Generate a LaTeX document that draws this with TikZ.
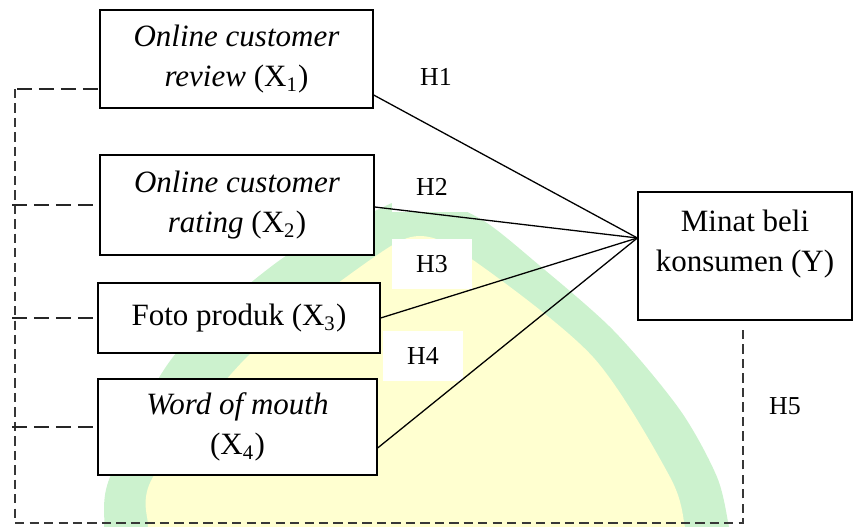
\documentclass[tikz,border=0pt]{standalone}
\usepackage{fontspec}
\setmainfont{Liberation Serif}
\usetikzlibrary{calc, positioning}

\definecolor{sealgreen}{RGB}{204,242,206}
\definecolor{sealyellow}{RGB}{255,255,208}
\definecolor{dashgray}{RGB}{55,55,55}

% one unit of the drawing grid
\def\pxu{0.387pt}

\tikzset{
    varbox/.style={draw, line width=0.5pt, fill=white, align=center, inner sep=0pt,
        font=\fontsize{12}{15.5}\selectfont},
    hlabel/.style={fill=white, inner sep=0pt, minimum width=80*\pxu, minimum height=50*\pxu,
        font=\fontsize{10}{12}\selectfont},
    hline/.style={line width=0.5pt},
    stubline/.style={line width=0.75pt, black!85, dash pattern=on 5.8pt off 2.7pt},
    bracketline/.style={line width=0.45pt, dashgray, dash pattern=on 3.6pt off 2pt}
}

\begin{document}
\begin{tikzpicture}[x=0.387pt, y=-0.387pt]
    \useasboundingbox (0,0) rectangle (854,527);
    % seal in the background
    \begin{scope}
    \clip (0,0) rectangle (854,527);
    \fill[sealgreen] plot[smooth] coordinates {(98,545) (104,527) (110,477) (173,357) (280,260) (377,210) (410,198) (450,205) (487,223) (533,260) (613,330) (680,410) (717,477) (729,527) (732,545)} -- cycle;
    \fill[sealyellow] plot[smooth] coordinates {(146,545) (148,527) (153,477) (247,357) (370,260) (420,236) (473,260) (593,357) (670,477) (685,527) (687,545)} -- cycle;
    \end{scope}
    % hypothesis labels
    \node[hlabel] (h1) at (436,77) {H1};
    \node[hlabel] (h2) at (432,187) {H2};
    \node[hlabel] (h3) at (432,264) {H3};
    \node[hlabel] (h4) at (423,356) {H4};
    \node[hlabel] (h5) at (785,406) {H5};
    % variables
    \node[varbox, minimum width=273*\pxu, minimum height=98*\pxu] (x1) at (236.5,59) {\textit{Online customer}\\\textit{review} (X\textsubscript{1})};
    \node[varbox, minimum width=274*\pxu, minimum height=100*\pxu] (x2) at (237,205) {\textit{Online customer}\\\textit{rating} (X\textsubscript{2})};
    \node[varbox, minimum width=282*\pxu, minimum height=70*\pxu] (x3) at (239,318) {Foto produk (X\textsubscript{3})};
    \node[varbox, minimum width=279*\pxu, minimum height=96*\pxu] (x4) at (237.5,427) {\textit{Word of mouth}\\(X\textsubscript{4})};
    \node[varbox, minimum width=214*\pxu, minimum height=128*\pxu,
        label={[align=center, yshift=4.6pt, font=\fontsize{12}{15.5}\selectfont]center:{Minat beli\\konsumen (Y)}}] (y) at (745,256) {};
    % paths X -> Y
    \coordinate (yin) at ([yshift=18*\pxu]y.west);
    \draw[hline] ([yshift=-36*\pxu]x1.east) -- (yin);
    \draw[hline] ([yshift=-2*\pxu]x2.east) -- (yin);
    \draw[hline] (x3.east) -- (yin);
    \draw[hline] ([yshift=-21*\pxu]x4.east) -- (yin);
    % simultaneous effect
    \coordinate (lt) at (15,89);
    \coordinate (lc) at (15,523);
    \coordinate (rc) at (743,523);
    \coordinate (rt) at (743,328);
    \draw[bracketline] (lt) -- (lc) -- (rc) -- (rt);
    \draw[stubline] ([xshift=2*\pxu]lt) -- ([yshift=-30*\pxu]x1.west);
    \draw[stubline] ([xshift=-3*\pxu]x2.west -| lt) -- (x2.west);
    \draw[stubline] ([xshift=-3*\pxu]x3.west -| lt) -- (x3.west);
    \draw[stubline] ([xshift=-3*\pxu]x4.west -| lt) -- (x4.west);
\end{tikzpicture}
\end{document}
